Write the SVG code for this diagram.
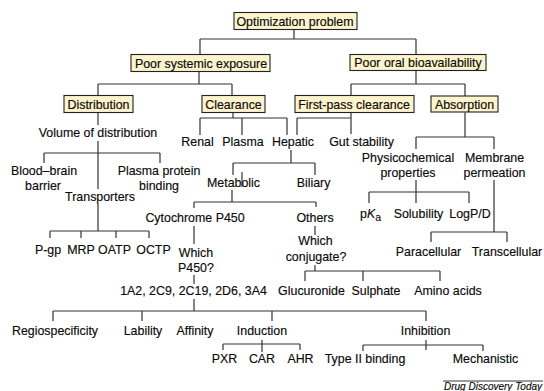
<svg xmlns="http://www.w3.org/2000/svg" width="544" height="391" viewBox="0 0 544 391">
  <style>
    .box rect { fill: #fdf3cc; stroke: #222; stroke-width: 1.1; }
    text { font-family: "Liberation Sans", Arial, sans-serif; font-size: 12.4px; fill: #0a0a0a; text-anchor: middle; stroke: #0a0a0a; stroke-width: 0.15; }
    .edges path { fill: none; stroke: #333; stroke-width: 1.2; }
    .credit { font-size: 10px; font-style: italic; text-anchor: start; }
  </style>
  <rect width="544" height="391" fill="#ffffff"/>

  <!-- connectors -->
  <g class="edges">
    <path d="M294 29.5V39M200 39H416M200 39V54.5M416 39V54.5"/>
    <path d="M199 71.5V84M98 84H232M98 84V95.5M232 84V95.5"/>
    <path d="M416 70.5V84M351 84H465M351 84V95.5M465 84V96"/>
    <!-- distribution branch -->
    <path d="M98 112.5V125"/>
    <path d="M98 141V189M44 153H160M44 153V163M160 153V163"/>
    <path d="M98 204V231M50 231H149M50 231V238M81 231V238M116 231V238M149 231V238"/>
    <!-- clearance branch -->
    <path d="M233 112.5V118M200 118H287M200 118V135M242 118V135M287 118V135"/>
    <path d="M351 112.5V118M297 118H351M297 118V135M351 118V134"/>
    <path d="M291 150V163M233 163H315M233 163V175M315 163V175"/>
    <path d="M242 172V187"/>
    <path d="M232 190V202M194 202H316M194 202V208M316 202V207"/>
    <path d="M194 226V244"/>
    <path d="M194 275V284"/>
    <path d="M194 299V311M53 311H426M53 311V321M142 311V321M272 311V321M426 311V321"/>
    <path d="M262 340V352M223 344H300M223 344V350M300 344V350"/>
    <path d="M426 340V350M363 345H483M363 345V351M483 345V351"/>
    <path d="M315 226V235"/>
    <path d="M315 265V271M305 271H440M305 271V281M363 271V281M440 271V281"/>
    <!-- absorption branch -->
    <path d="M465 112.5V137M416 137H494M416 137V149M494 137V149"/>
    <path d="M416 180V203M369 192H469M369 192V203M469 192V203"/>
    <path d="M494 180V232M431 232H507M431 232V242M507 232V242"/>
  </g>

  <!-- boxed nodes -->
  <g id="optimization-problem" class="box">
    <rect x="234" y="12.5" width="123" height="17"/>
    <text x="295" y="25.5">Optimization problem</text>
  </g>
  <g id="poor-systemic-exposure" class="box">
    <rect x="131" y="54.5" width="139" height="17"/>
    <text x="201" y="67.5">Poor systemic exposure</text>
  </g>
  <g id="poor-oral-bioavailability" class="box">
    <rect x="350" y="54.5" width="136" height="16"/>
    <text x="418" y="67">Poor oral bioavailability</text>
  </g>
  <g id="distribution" class="box">
    <rect x="64" y="95.5" width="69" height="17"/>
    <text x="98.5" y="108.5">Distribution</text>
  </g>
  <g id="clearance" class="box">
    <rect x="202" y="95.5" width="63" height="17"/>
    <text x="233.5" y="108.5">Clearance</text>
  </g>
  <g id="first-pass-clearance" class="box">
    <rect x="295" y="95.5" width="119" height="17"/>
    <text x="354" y="108.5">First-pass clearance</text>
  </g>
  <g id="absorption" class="box">
    <rect x="431" y="96" width="67" height="16"/>
    <text x="464.5" y="108.5">Absorption</text>
  </g>

  <!-- distribution -->
  <g id="volume-of-distribution"><text x="98" y="137">Volume of distribution</text></g>
  <g id="blood-brain-barrier"><text x="44" y="175">Blood–brain</text><text x="43" y="190">barrier</text></g>
  <g id="plasma-protein-binding"><text x="159" y="175">Plasma protein</text><text x="159" y="190">binding</text></g>
  <g id="transporters"><text x="100" y="201">Transporters</text></g>
  <g id="p-gp"><text x="48" y="254">P-gp</text></g>
  <g id="mrp"><text x="81" y="254">MRP</text></g>
  <g id="oatp"><text x="114.5" y="254">OATP</text></g>
  <g id="octp"><text x="153.5" y="254">OCTP</text></g>

  <!-- clearance -->
  <g id="renal"><text x="197.5" y="146">Renal</text></g>
  <g id="plasma"><text x="243" y="146">Plasma</text></g>
  <g id="hepatic"><text x="293" y="146">Hepatic</text></g>
  <g id="gut-stability"><text x="361.5" y="146">Gut stability</text></g>
  <g id="metabolic"><text x="233.5" y="187">Metabolic</text></g>
  <g id="biliary"><text x="313.5" y="187">Biliary</text></g>
  <g id="cytochrome-p450"><text x="195" y="222">Cytochrome P450</text></g>
  <g id="others"><text x="315" y="222">Others</text></g>
  <g id="which-p450"><text x="196" y="257">Which</text><text x="196" y="272">P450?</text></g>
  <g id="which-conjugate"><text x="315.5" y="245">Which</text><text x="316" y="261">conjugate?</text></g>
  <g id="isoforms"><text x="193.5" y="295">1A2, 2C9, 2C19, 2D6, 3A4</text></g>
  <g id="glucuronide"><text x="311.5" y="295">Glucuronide</text></g>
  <g id="sulphate"><text x="376" y="295">Sulphate</text></g>
  <g id="amino-acids"><text x="448" y="295">Amino acids</text></g>
  <g id="regiospecificity"><text x="55" y="335">Regiospecificity</text></g>
  <g id="lability"><text x="143" y="335">Lability</text></g>
  <g id="affinity"><text x="195" y="335">Affinity</text></g>
  <g id="induction"><text x="262" y="335">Induction</text></g>
  <g id="inhibition"><text x="425.5" y="335">Inhibition</text></g>
  <g id="pxr"><text x="224.5" y="363">PXR</text></g>
  <g id="car"><text x="262" y="363">CAR</text></g>
  <g id="ahr"><text x="300.5" y="363">AHR</text></g>
  <g id="type-ii-binding"><text x="365" y="363">Type II binding</text></g>
  <g id="mechanistic"><text x="485.5" y="363">Mechanistic</text></g>

  <!-- absorption -->
  <g id="physicochemical-properties"><text x="408" y="162">Physicochemical</text><text x="408" y="177">properties</text></g>
  <g id="membrane-permeation"><text x="494.5" y="162">Membrane</text><text x="494.5" y="177">permeation</text></g>
  <g id="pka"><text x="370.5" y="218">p<tspan font-style="italic">K</tspan><tspan font-size="10.5" dy="3">a</tspan></text></g>
  <g id="solubility"><text x="418.5" y="218">Solubility</text></g>
  <g id="logp-d"><text x="470" y="218">LogP/D</text></g>
  <g id="paracellular"><text x="428.5" y="256">Paracellular</text></g>
  <g id="transcellular"><text x="507" y="256">Transcellular</text></g>

  <!-- journal credit -->
  <path d="M443 381H543" stroke="#222" stroke-width="0.9"/>
  <text class="credit" x="444" y="389.5">Drug Discovery Today</text>
</svg>
